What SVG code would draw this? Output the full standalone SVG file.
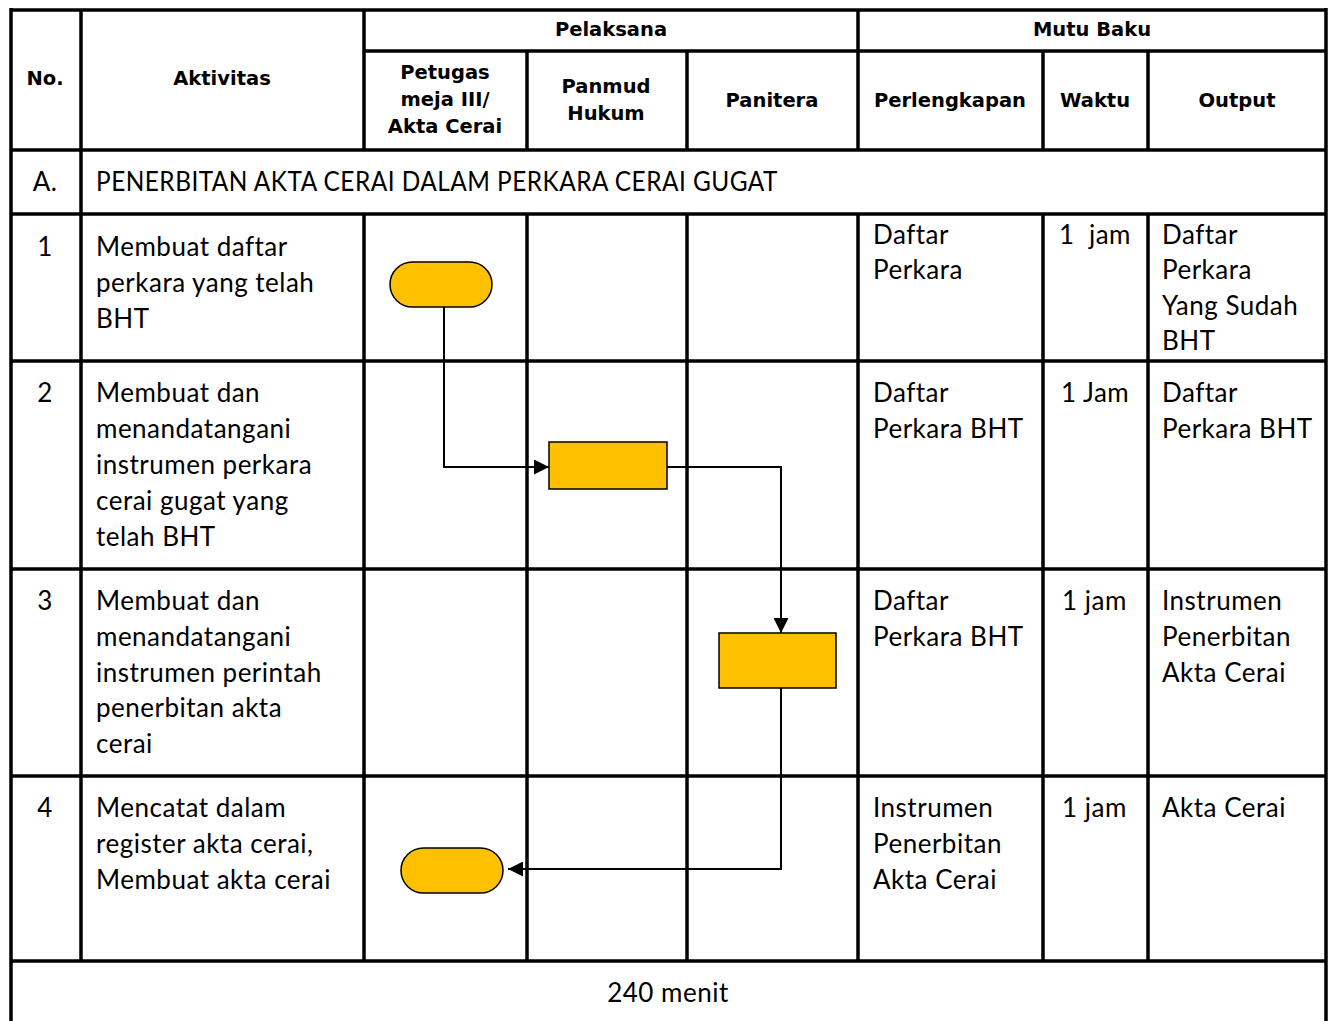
<svg xmlns="http://www.w3.org/2000/svg" width="1332" height="1021" viewBox="0 0 1332 1021">
<style>
.grid{stroke:#000;stroke-width:3.5;fill:none}
.h{font-family:"DejaVu Sans",Verdana,sans-serif;font-weight:bold;font-size:19.5px;fill:#000;text-anchor:middle}
.t{font-family:Lato,"Liberation Sans",sans-serif;font-size:26px;letter-spacing:0.5px;fill:#000}
.c{text-anchor:middle}
.shape{fill:#FFC000;stroke:#000;stroke-width:1.5}
.conn{fill:none;stroke:#000;stroke-width:2}
</style>
<defs>
<marker id="arr" viewBox="0 0 10 10" refX="10" refY="5" markerWidth="7.5" markerHeight="7.5" orient="auto" markerUnits="strokeWidth">
<path d="M0,0 L10,5 L0,10 z" fill="#000"/>
</marker>
</defs>
<rect width="1332" height="1021" fill="#fff"/>
<g id="table" class="grid">
<line x1="10" y1="10" x2="1326" y2="10"/>
<line x1="364" y1="51" x2="1326" y2="51"/>
<line x1="10" y1="150" x2="1326" y2="150"/>
<line x1="10" y1="214" x2="1326" y2="214"/>
<line x1="10" y1="361" x2="1326" y2="361"/>
<line x1="10" y1="569" x2="1326" y2="569"/>
<line x1="10" y1="776" x2="1326" y2="776"/>
<line x1="10" y1="961" x2="1326" y2="961"/>
<line x1="11" y1="8" x2="11" y2="1021"/>
<line x1="1326" y1="8" x2="1326" y2="1021"/>
<line x1="81" y1="10" x2="81" y2="961"/>
<line x1="364" y1="10" x2="364" y2="150"/>
<line x1="364" y1="214" x2="364" y2="961"/>
<line x1="527" y1="51" x2="527" y2="150"/>
<line x1="527" y1="214" x2="527" y2="961"/>
<line x1="687" y1="51" x2="687" y2="150"/>
<line x1="687" y1="214" x2="687" y2="961"/>
<line x1="858" y1="10" x2="858" y2="150"/>
<line x1="858" y1="214" x2="858" y2="961"/>
<line x1="1043" y1="51" x2="1043" y2="150"/>
<line x1="1043" y1="214" x2="1043" y2="961"/>
<line x1="1148" y1="51" x2="1148" y2="150"/>
<line x1="1148" y1="214" x2="1148" y2="961"/>
</g>
<g id="headers">
<text class="h" x="45" y="85">No.</text>
<text class="h" x="222" y="85">Aktivitas</text>
<text class="h" x="611" y="36">Pelaksana</text>
<text class="h" x="1092" y="36">Mutu Baku</text>
<text class="h" x="445" y="79">Petugas</text>
<text class="h" x="445" y="106">meja III/</text>
<text class="h" x="445" y="133">Akta Cerai</text>
<text class="h" x="606" y="93">Panmud</text>
<text class="h" x="606" y="120">Hukum</text>
<text class="h" x="772" y="107">Panitera</text>
<text class="h" x="950" y="107">Perlengkapan</text>
<text class="h" x="1095" y="107">Waktu</text>
<text class="h" x="1237" y="107">Output</text>
</g>
<g id="rowA">
<text class="t c" x="45" y="191">A.</text>
<text class="t" x="96" y="191" textLength="682" lengthAdjust="spacingAndGlyphs">PENERBITAN AKTA CERAI DALAM PERKARA CERAI GUGAT</text>
</g>
<g id="row1">
<text class="t c" x="45" y="256">1</text>
<text class="t" x="96" y="256">Membuat daftar</text>
<text class="t" x="96" y="292">perkara yang telah</text>
<text class="t" x="96" y="328">BHT</text>
<text class="t" x="873" y="244">Daftar</text>
<text class="t" x="873" y="279">Perkara</text>
<text class="t" x="1059" y="244" xml:space="preserve">1  jam</text>
<text class="t" x="1162" y="244">Daftar</text>
<text class="t" x="1162" y="279">Perkara</text>
<text class="t" x="1162" y="315">Yang Sudah</text>
<text class="t" x="1162" y="350">BHT</text>
</g>
<g id="row2">
<text class="t c" x="45" y="402">2</text>
<text class="t" x="96" y="402">Membuat dan</text>
<text class="t" x="96" y="438">menandatangani</text>
<text class="t" x="96" y="474">instrumen perkara</text>
<text class="t" x="96" y="510">cerai gugat yang</text>
<text class="t" x="96" y="546">telah BHT</text>
<text class="t" x="873" y="402">Daftar</text>
<text class="t" x="873" y="438">Perkara BHT</text>
<text class="t" x="1061" y="402">1 Jam</text>
<text class="t" x="1162" y="402">Daftar</text>
<text class="t" x="1162" y="438">Perkara BHT</text>
</g>
<g id="row3">
<text class="t c" x="45" y="610">3</text>
<text class="t" x="96" y="610">Membuat dan</text>
<text class="t" x="96" y="646">menandatangani</text>
<text class="t" x="96" y="682">instrumen perintah</text>
<text class="t" x="96" y="717">penerbitan akta</text>
<text class="t" x="96" y="753">cerai</text>
<text class="t" x="873" y="610">Daftar</text>
<text class="t" x="873" y="646">Perkara BHT</text>
<text class="t" x="1062" y="610">1 jam</text>
<text class="t" x="1162" y="610">Instrumen</text>
<text class="t" x="1162" y="646">Penerbitan</text>
<text class="t" x="1162" y="682">Akta Cerai</text>
</g>
<g id="row4">
<text class="t c" x="45" y="817">4</text>
<text class="t" x="96" y="817">Mencatat dalam</text>
<text class="t" x="96" y="853">register akta cerai,</text>
<text class="t" x="96" y="889">Membuat akta cerai</text>
<text class="t" x="873" y="817">Instrumen</text>
<text class="t" x="873" y="853">Penerbitan</text>
<text class="t" x="873" y="889">Akta Cerai</text>
<text class="t" x="1062" y="817">1 jam</text>
<text class="t" x="1162" y="817">Akta Cerai</text>
</g>
<g id="total">
<text class="t c" x="668" y="1002">240 menit</text>
</g>
<g id="connectors">
<polyline class="conn" points="444,307 444,467 549,467" marker-end="url(#arr)"/>
<polyline class="conn" points="667,467 781,467 781,633" marker-end="url(#arr)"/>
<polyline class="conn" points="781,688 781,869 508,869" marker-end="url(#arr)"/>
</g>
<g id="start"><rect class="shape" x="390" y="262" width="102" height="45" rx="22.5"/></g>
<g id="step2"><rect class="shape" x="549" y="442" width="118" height="47"/></g>
<g id="step3"><rect class="shape" x="719" y="633" width="117" height="55"/></g>
<g id="end"><rect class="shape" x="401" y="848" width="102" height="45" rx="22.5"/></g>
</svg>
